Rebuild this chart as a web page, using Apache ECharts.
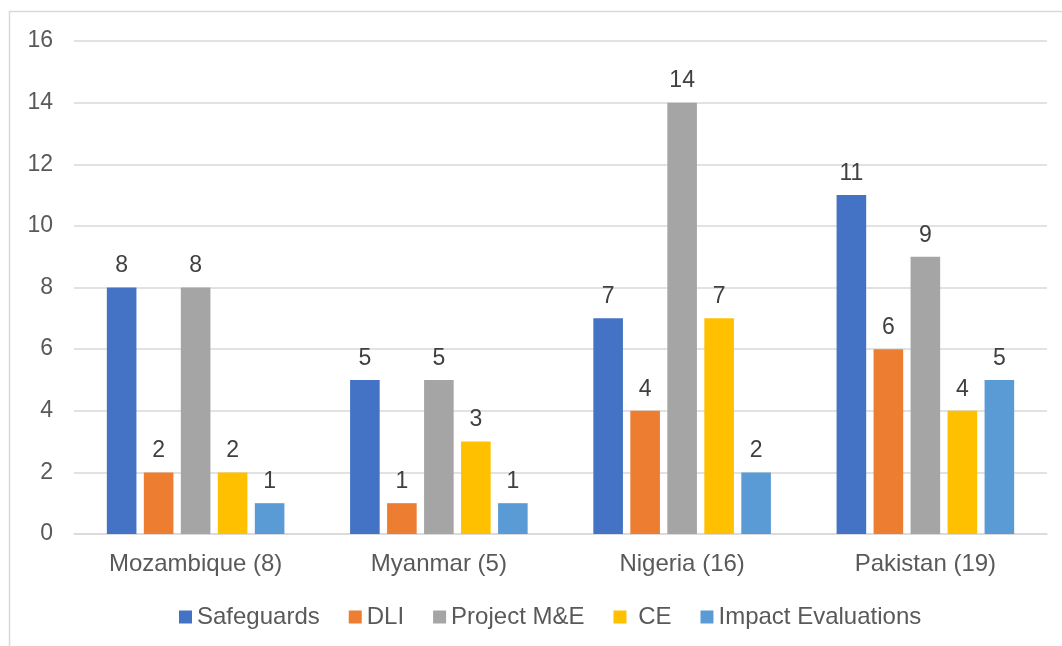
<!DOCTYPE html>
<html>
<head>
<meta charset="utf-8">
<script src="https://cdn.jsdelivr.net/npm/echarts@6/dist/echarts.min.js"></script>
<style>
html,body{margin:0;padding:0;background:#fff;}
#chart{width:1062px;height:646px;}
</style>
</head>
<body>
<div id="chart"></div>
<script>
const categories = ['Mozambique (8)', 'Myanmar (5)', 'Nigeria (16)', 'Pakistan (19)'];
const seriesNames = ['Safeguards', 'DLI', 'Project M&E', 'CE', 'Impact Evaluations'];
const safeguards = [8, 5, 7, 11];
const dli = [2, 1, 4, 6];
const projectME = [8, 5, 14, 9];
const ce = [2, 3, 7, 4];
const impactEvaluations = [1, 1, 2, 5];
const colors = ['#4472C4', '#ED7D31', '#A5A5A5', '#FFC000', '#5B9BD5'];
const legendLabels = ['Safeguards', 'DLI', 'Project M&E', ' CE', 'Impact Evaluations'];

const allData = [safeguards, dli, projectME, ce, impactEvaluations];
const font = '"Liberation Sans", Arial, sans-serif';
const textColor = '#595959';

const chart = echarts.init(document.getElementById('chart'));
chart.setOption({
  animation: false,
  textStyle: { fontFamily: font },
  graphic: [{
    type: 'rect',
    shape: { x: 9.5, y: 11.5, width: 1100, height: 700 },
    style: { fill: 'none', stroke: '#D9D9D9', lineWidth: 1.5 },
    silent: true
  }],
  grid: { left: 74, right: 15, top: 41, bottom: 112 },
  legend: {
    left: 174,
    top: 600,
    itemWidth: 13,
    itemHeight: 13,
    itemGap: 29,
    icon: 'rect',
    textStyle: { fontSize: 24, color: textColor, fontFamily: font },
    formatter: function (name) { return legendLabels[seriesNames.indexOf(name)]; },
    data: seriesNames
  },
  xAxis: {
    type: 'category',
    data: categories,
    axisLine: { lineStyle: { color: '#D9D9D9', width: 1.5 } },
    axisTick: { show: false },
    axisLabel: { fontSize: 24, color: textColor, margin: 18, fontFamily: font }
  },
  yAxis: {
    type: 'value',
    min: 0,
    max: 16,
    interval: 2,
    axisLine: { show: false },
    axisTick: { show: false },
    axisLabel: { fontSize: 23, color: textColor, margin: 21, fontFamily: font },
    splitLine: { lineStyle: { color: '#D9D9D9', width: 1.5 } }
  },
  series: seriesNames.map(function (name, i) {
    return {
      name: name,
      type: 'bar',
      data: allData[i],
      barGap: '25%',
      barCategoryGap: '27%',
      itemStyle: { color: colors[i] },
      label: {
        show: true,
        position: 'top',
        distance: 10,
        fontSize: 23,
        color: '#404040',
        fontFamily: font
      }
    };
  })
});
</script>
</body>
</html>
